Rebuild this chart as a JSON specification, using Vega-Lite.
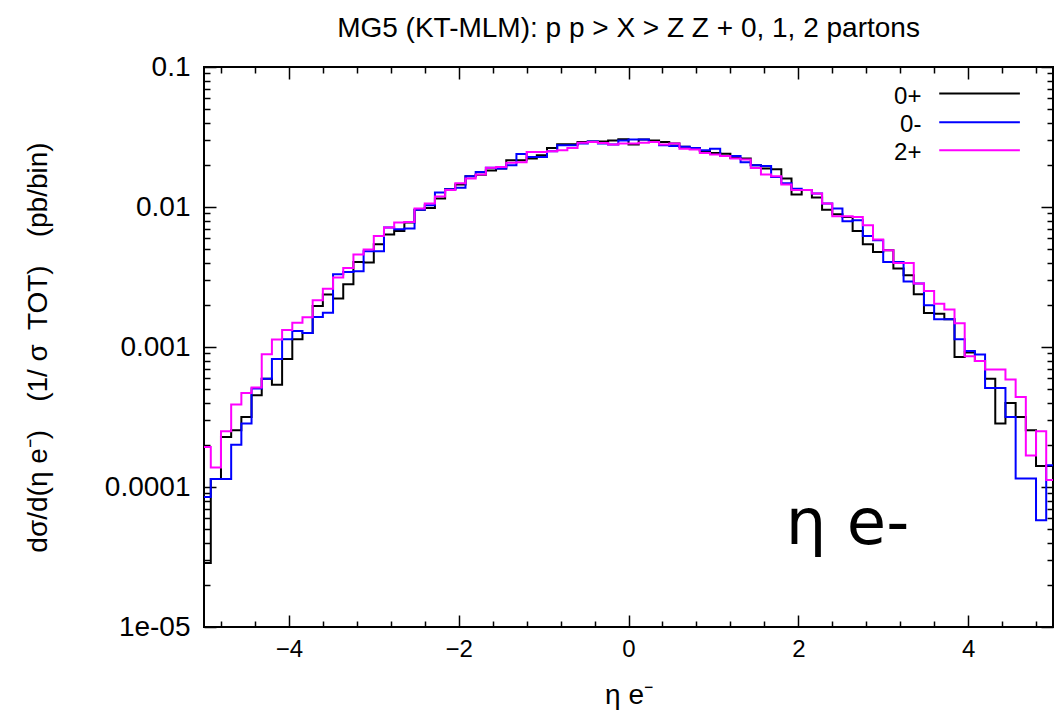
{
  "$schema": "https://vega.github.io/schema/vega-lite/v6.json",
  "width": 849,
  "height": 560,
  "autosize": {"type": "none"},
  "padding": {"left": 204, "top": 67, "right": 2, "bottom": 88},
  "background": "white",
  "config": {
    "view": {"stroke": "black", "strokeWidth": 2},
    "font": "Liberation Sans",
    "axis": {"domain": false, "grid": false, "tickColor": "black", "tickWidth": 1.5, "labelColor": "black", "titleColor": "black", "labelFont": "Liberation Sans", "titleFont": "Liberation Sans", "titleFontWeight": "normal"}
  },
  "title": {"text": "MG5 (KT-MLM): p p > X > Z Z + 0, 1, 2 partons", "font": "Liberation Sans", "fontSize": 28, "fontWeight": "normal", "color": "black", "anchor": "middle", "offset": 10},
  "datasets": {
    "hist": [
      {"x": -5.04, "y": 2.86e-5, "s": "0+"}, {"x": -4.92, "y": 1.14e-4, "s": "0+"}, {"x": -4.80, "y": 2.28e-4, "s": "0+"}, {"x": -4.68, "y": 2.54e-4, "s": "0+"}, {"x": -4.56, "y": 3.16e-4, "s": "0+"}, {"x": -4.44, "y": 4.52e-4, "s": "0+"}, {"x": -4.32, "y": 5.94e-4, "s": "0+"}, {"x": -4.20, "y": 5.38e-4, "s": "0+"}, {"x": -4.08, "y": 8.20e-4, "s": "0+"}, {"x": -3.96, "y": 1.135e-3, "s": "0+"},
      {"x": -3.84, "y": 1.26e-3, "s": "0+"}, {"x": -3.72, "y": 1.96e-3, "s": "0+"}, {"x": -3.60, "y": 2.37e-3, "s": "0+"}, {"x": -3.48, "y": 2.22e-3, "s": "0+"}, {"x": -3.36, "y": 2.81e-3, "s": "0+"}, {"x": -3.24, "y": 4.05e-3, "s": "0+"}, {"x": -3.12, "y": 4.01e-3, "s": "0+"}, {"x": -3.00, "y": 5.42e-3, "s": "0+"}, {"x": -2.88, "y": 6.35e-3, "s": "0+"}, {"x": -2.76, "y": 6.75e-3, "s": "0+"},
      {"x": -2.64, "y": 7.74e-3, "s": "0+"}, {"x": -2.52, "y": 9.57e-3, "s": "0+"}, {"x": -2.40, "y": 9.84e-3, "s": "0+"}, {"x": -2.28, "y": 1.148e-2, "s": "0+"}, {"x": -2.16, "y": 1.34e-2, "s": "0+"}, {"x": -2.04, "y": 1.445e-2, "s": "0+"}, {"x": -1.92, "y": 1.66e-2, "s": "0+"}, {"x": -1.80, "y": 1.70e-2, "s": "0+"}, {"x": -1.68, "y": 1.82e-2, "s": "0+"}, {"x": -1.56, "y": 1.88e-2, "s": "0+"},
      {"x": -1.44, "y": 2.16e-2, "s": "0+"}, {"x": -1.32, "y": 2.16e-2, "s": "0+"}, {"x": -1.20, "y": 2.22e-2, "s": "0+"}, {"x": -1.08, "y": 2.34e-2, "s": "0+"}, {"x": -0.96, "y": 2.64e-2, "s": "0+"}, {"x": -0.84, "y": 2.81e-2, "s": "0+"}, {"x": -0.72, "y": 2.81e-2, "s": "0+"}, {"x": -0.60, "y": 2.91e-2, "s": "0+"}, {"x": -0.48, "y": 2.94e-2, "s": "0+"}, {"x": -0.36, "y": 2.94e-2, "s": "0+"},
      {"x": -0.24, "y": 2.99e-2, "s": "0+"}, {"x": -0.12, "y": 3.05e-2, "s": "0+"}, {"x": 0.00, "y": 2.79e-2, "s": "0+"}, {"x": 0.12, "y": 3.03e-2, "s": "0+"}, {"x": 0.24, "y": 2.99e-2, "s": "0+"}, {"x": 0.36, "y": 2.91e-2, "s": "0+"}, {"x": 0.48, "y": 2.84e-2, "s": "0+"}, {"x": 0.60, "y": 2.69e-2, "s": "0+"}, {"x": 0.72, "y": 2.64e-2, "s": "0+"}, {"x": 0.84, "y": 2.50e-2, "s": "0+"},
      {"x": 0.96, "y": 2.43e-2, "s": "0+"}, {"x": 1.08, "y": 2.40e-2, "s": "0+"}, {"x": 1.20, "y": 2.24e-2, "s": "0+"}, {"x": 1.32, "y": 2.22e-2, "s": "0+"}, {"x": 1.44, "y": 1.99e-2, "s": "0+"}, {"x": 1.56, "y": 1.88e-2, "s": "0+"}, {"x": 1.68, "y": 1.86e-2, "s": "0+"}, {"x": 1.80, "y": 1.60e-2, "s": "0+"}, {"x": 1.92, "y": 1.23e-2, "s": "0+"}, {"x": 2.04, "y": 1.32e-2, "s": "0+"},
      {"x": 2.16, "y": 1.17e-2, "s": "0+"}, {"x": 2.28, "y": 9.57e-3, "s": "0+"}, {"x": 2.40, "y": 8.87e-3, "s": "0+"}, {"x": 2.52, "y": 8.49e-3, "s": "0+"}, {"x": 2.64, "y": 6.75e-3, "s": "0+"}, {"x": 2.76, "y": 5.42e-3, "s": "0+"}, {"x": 2.88, "y": 4.78e-3, "s": "0+"}, {"x": 3.00, "y": 4.91e-3, "s": "0+"}, {"x": 3.12, "y": 3.63e-3, "s": "0+"}, {"x": 3.24, "y": 3.25e-3, "s": "0+"},
      {"x": 3.36, "y": 2.38e-3, "s": "0+"}, {"x": 3.48, "y": 1.75e-3, "s": "0+"}, {"x": 3.60, "y": 1.73e-3, "s": "0+"}, {"x": 3.72, "y": 1.58e-3, "s": "0+"}, {"x": 3.84, "y": 8.49e-4, "s": "0+"}, {"x": 3.96, "y": 9.12e-4, "s": "0+"}, {"x": 4.08, "y": 7.94e-4, "s": "0+"}, {"x": 4.20, "y": 5.94e-4, "s": "0+"}, {"x": 4.32, "y": 2.84e-4, "s": "0+"}, {"x": 4.44, "y": 3.98e-4, "s": "0+"},
      {"x": 4.56, "y": 3.16e-4, "s": "0+"}, {"x": 4.68, "y": 2.54e-4, "s": "0+"}, {"x": 4.80, "y": 1.41e-4, "s": "0+"}, {"x": 4.92, "y": 1.41e-4, "s": "0+"}, {"x": 5.04, "y": 1.41e-4, "s": "0+"},

      {"x": -5.04, "y": 8.49e-5, "s": "0-"}, {"x": -4.92, "y": 1.14e-4, "s": "0-"}, {"x": -4.80, "y": 1.14e-4, "s": "0-"}, {"x": -4.68, "y": 2.00e-4, "s": "0-"}, {"x": -4.56, "y": 2.84e-4, "s": "0-"}, {"x": -4.44, "y": 5.05e-4, "s": "0-"}, {"x": -4.32, "y": 5.94e-4, "s": "0-"}, {"x": -4.20, "y": 8.20e-4, "s": "0-"}, {"x": -4.08, "y": 1.135e-3, "s": "0-"}, {"x": -3.96, "y": 1.30e-3, "s": "0-"},
      {"x": -3.84, "y": 1.26e-3, "s": "0-"}, {"x": -3.72, "y": 1.64e-3, "s": "0-"}, {"x": -3.60, "y": 1.76e-3, "s": "0-"}, {"x": -3.48, "y": 3.31e-3, "s": "0-"}, {"x": -3.36, "y": 3.44e-3, "s": "0-"}, {"x": -3.24, "y": 3.48e-3, "s": "0-"}, {"x": -3.12, "y": 4.83e-3, "s": "0-"}, {"x": -3.00, "y": 4.83e-3, "s": "0-"}, {"x": -2.88, "y": 7.13e-3, "s": "0-"}, {"x": -2.76, "y": 6.93e-3, "s": "0-"},
      {"x": -2.64, "y": 7.01e-3, "s": "0-"}, {"x": -2.52, "y": 9.57e-3, "s": "0-"}, {"x": -2.40, "y": 1.03e-2, "s": "0-"}, {"x": -2.28, "y": 1.27e-2, "s": "0-"}, {"x": -2.16, "y": 1.34e-2, "s": "0-"}, {"x": -2.04, "y": 1.37e-2, "s": "0-"}, {"x": -1.92, "y": 1.66e-2, "s": "0-"}, {"x": -1.80, "y": 1.78e-2, "s": "0-"}, {"x": -1.68, "y": 1.91e-2, "s": "0-"}, {"x": -1.56, "y": 1.88e-2, "s": "0-"},
      {"x": -1.44, "y": 1.99e-2, "s": "0-"}, {"x": -1.32, "y": 2.39e-2, "s": "0-"}, {"x": -1.20, "y": 2.28e-2, "s": "0-"}, {"x": -1.08, "y": 2.28e-2, "s": "0-"}, {"x": -0.96, "y": 2.50e-2, "s": "0-"}, {"x": -0.84, "y": 2.76e-2, "s": "0-"}, {"x": -0.72, "y": 2.76e-2, "s": "0-"}, {"x": -0.60, "y": 2.84e-2, "s": "0-"}, {"x": -0.48, "y": 2.94e-2, "s": "0-"}, {"x": -0.36, "y": 2.84e-2, "s": "0-"},
      {"x": -0.24, "y": 2.79e-2, "s": "0-"}, {"x": -0.12, "y": 2.99e-2, "s": "0-"}, {"x": 0.00, "y": 3.03e-2, "s": "0-"}, {"x": 0.12, "y": 3.03e-2, "s": "0-"}, {"x": 0.24, "y": 2.91e-2, "s": "0-"}, {"x": 0.36, "y": 2.76e-2, "s": "0-"}, {"x": 0.48, "y": 2.73e-2, "s": "0-"}, {"x": 0.60, "y": 2.69e-2, "s": "0-"}, {"x": 0.72, "y": 2.64e-2, "s": "0-"}, {"x": 0.84, "y": 2.54e-2, "s": "0-"},
      {"x": 0.96, "y": 2.61e-2, "s": "0-"}, {"x": 1.08, "y": 2.31e-2, "s": "0-"}, {"x": 1.20, "y": 2.31e-2, "s": "0-"}, {"x": 1.32, "y": 2.09e-2, "s": "0-"}, {"x": 1.44, "y": 1.99e-2, "s": "0-"}, {"x": 1.56, "y": 1.96e-2, "s": "0-"}, {"x": 1.68, "y": 1.64e-2, "s": "0-"}, {"x": 1.80, "y": 1.48e-2, "s": "0-"}, {"x": 1.92, "y": 1.35e-2, "s": "0-"}, {"x": 2.04, "y": 1.32e-2, "s": "0-"},
      {"x": 2.16, "y": 1.25e-2, "s": "0-"}, {"x": 2.28, "y": 1.06e-2, "s": "0-"}, {"x": 2.40, "y": 9.75e-3, "s": "0-"}, {"x": 2.52, "y": 7.91e-3, "s": "0-"}, {"x": 2.64, "y": 8.04e-3, "s": "0-"}, {"x": 2.76, "y": 6.21e-3, "s": "0-"}, {"x": 2.88, "y": 5.78e-3, "s": "0-"}, {"x": 3.00, "y": 4.05e-3, "s": "0-"}, {"x": 3.12, "y": 4.05e-3, "s": "0-"}, {"x": 3.24, "y": 2.94e-3, "s": "0-"},
      {"x": 3.36, "y": 2.84e-3, "s": "0-"}, {"x": 3.48, "y": 1.99e-3, "s": "0-"}, {"x": 3.60, "y": 1.58e-3, "s": "0-"}, {"x": 3.72, "y": 1.58e-3, "s": "0-"}, {"x": 3.84, "y": 1.135e-3, "s": "0-"}, {"x": 3.96, "y": 9.35e-4, "s": "0-"}, {"x": 4.08, "y": 8.83e-4, "s": "0-"}, {"x": 4.20, "y": 5.09e-4, "s": "0-"}, {"x": 4.32, "y": 5.09e-4, "s": "0-"}, {"x": 4.44, "y": 3.16e-4, "s": "0-"},
      {"x": 4.56, "y": 1.15e-4, "s": "0-"}, {"x": 4.68, "y": 1.15e-4, "s": "0-"}, {"x": 4.80, "y": 5.78e-5, "s": "0-"}, {"x": 4.92, "y": 1.43e-4, "s": "0-"}, {"x": 5.04, "y": 1.43e-4, "s": "0-"},

      {"x": -5.04, "y": 1.93e-4, "s": "2+"}, {"x": -4.92, "y": 1.38e-4, "s": "2+"}, {"x": -4.80, "y": 2.50e-4, "s": "2+"}, {"x": -4.68, "y": 3.88e-4, "s": "2+"}, {"x": -4.56, "y": 4.69e-4, "s": "2+"}, {"x": -4.44, "y": 5.13e-4, "s": "2+"}, {"x": -4.32, "y": 8.87e-4, "s": "2+"}, {"x": -4.20, "y": 1.13e-3, "s": "2+"}, {"x": -4.08, "y": 1.32e-3, "s": "2+"}, {"x": -3.96, "y": 1.49e-3, "s": "2+"},
      {"x": -3.84, "y": 1.63e-3, "s": "2+"}, {"x": -3.72, "y": 2.16e-3, "s": "2+"}, {"x": -3.60, "y": 2.61e-3, "s": "2+"}, {"x": -3.48, "y": 3.13e-3, "s": "2+"}, {"x": -3.36, "y": 3.66e-3, "s": "2+"}, {"x": -3.24, "y": 4.57e-3, "s": "2+"}, {"x": -3.12, "y": 4.97e-3, "s": "2+"}, {"x": -3.00, "y": 6.21e-3, "s": "2+"}, {"x": -2.88, "y": 7.13e-3, "s": "2+"}, {"x": -2.76, "y": 7.74e-3, "s": "2+"},
      {"x": -2.64, "y": 7.82e-3, "s": "2+"}, {"x": -2.52, "y": 9.75e-3, "s": "2+"}, {"x": -2.40, "y": 1.06e-2, "s": "2+"}, {"x": -2.28, "y": 1.19e-2, "s": "2+"}, {"x": -2.16, "y": 1.32e-2, "s": "2+"}, {"x": -2.04, "y": 1.48e-2, "s": "2+"}, {"x": -1.92, "y": 1.60e-2, "s": "2+"}, {"x": -1.80, "y": 1.71e-2, "s": "2+"}, {"x": -1.68, "y": 1.91e-2, "s": "2+"}, {"x": -1.56, "y": 1.93e-2, "s": "2+"},
      {"x": -1.44, "y": 2.07e-2, "s": "2+"}, {"x": -1.32, "y": 2.09e-2, "s": "2+"}, {"x": -1.20, "y": 2.47e-2, "s": "2+"}, {"x": -1.08, "y": 2.47e-2, "s": "2+"}, {"x": -0.96, "y": 2.50e-2, "s": "2+"}, {"x": -0.84, "y": 2.54e-2, "s": "2+"}, {"x": -0.72, "y": 2.64e-2, "s": "2+"}, {"x": -0.60, "y": 2.88e-2, "s": "2+"}, {"x": -0.48, "y": 2.91e-2, "s": "2+"}, {"x": -0.36, "y": 2.86e-2, "s": "2+"},
      {"x": -0.24, "y": 2.79e-2, "s": "2+"}, {"x": -0.12, "y": 2.84e-2, "s": "2+"}, {"x": 0.00, "y": 2.84e-2, "s": "2+"}, {"x": 0.12, "y": 2.88e-2, "s": "2+"}, {"x": 0.24, "y": 2.91e-2, "s": "2+"}, {"x": 0.36, "y": 2.79e-2, "s": "2+"}, {"x": 0.48, "y": 2.84e-2, "s": "2+"}, {"x": 0.60, "y": 2.61e-2, "s": "2+"}, {"x": 0.72, "y": 2.57e-2, "s": "2+"}, {"x": 0.84, "y": 2.43e-2, "s": "2+"},
      {"x": 0.96, "y": 2.37e-2, "s": "2+"}, {"x": 1.08, "y": 2.31e-2, "s": "2+"}, {"x": 1.20, "y": 2.22e-2, "s": "2+"}, {"x": 1.32, "y": 2.18e-2, "s": "2+"}, {"x": 1.44, "y": 1.90e-2, "s": "2+"}, {"x": 1.56, "y": 1.71e-2, "s": "2+"}, {"x": 1.68, "y": 1.66e-2, "s": "2+"}, {"x": 1.80, "y": 1.445e-2, "s": "2+"}, {"x": 1.92, "y": 1.32e-2, "s": "2+"}, {"x": 2.04, "y": 1.32e-2, "s": "2+"},
      {"x": 2.16, "y": 1.25e-2, "s": "2+"}, {"x": 2.28, "y": 1.06e-2, "s": "2+"}, {"x": 2.40, "y": 8.59e-3, "s": "2+"}, {"x": 2.52, "y": 8.59e-3, "s": "2+"}, {"x": 2.64, "y": 8.49e-3, "s": "2+"}, {"x": 2.76, "y": 7.40e-3, "s": "2+"}, {"x": 2.88, "y": 5.85e-3, "s": "2+"}, {"x": 3.00, "y": 4.91e-3, "s": "2+"}, {"x": 3.12, "y": 3.98e-3, "s": "2+"}, {"x": 3.24, "y": 3.98e-3, "s": "2+"},
      {"x": 3.36, "y": 2.84e-3, "s": "2+"}, {"x": 3.48, "y": 2.51e-3, "s": "2+"}, {"x": 3.60, "y": 2.04e-3, "s": "2+"}, {"x": 3.72, "y": 1.85e-3, "s": "2+"}, {"x": 3.84, "y": 1.48e-3, "s": "2+"}, {"x": 3.96, "y": 8.59e-4, "s": "2+"}, {"x": 4.08, "y": 7.94e-4, "s": "2+"}, {"x": 4.20, "y": 6.90e-4, "s": "2+"}, {"x": 4.32, "y": 6.90e-4, "s": "2+"}, {"x": 4.44, "y": 5.85e-4, "s": "2+"},
      {"x": 4.56, "y": 4.40e-4, "s": "2+"}, {"x": 4.68, "y": 1.68e-4, "s": "2+"}, {"x": 4.80, "y": 2.50e-4, "s": "2+"}, {"x": 4.92, "y": 1.12e-4, "s": "2+"}, {"x": 5.04, "y": 1.12e-4, "s": "2+"}
    ]
  },
  "data": {"name": "hist"},
  "resolve": {"axis": {"x": "independent", "y": "independent"}},
  "layer": [
    {
      "mark": {"type": "line", "interpolate": "step-after", "clip": true, "strokeWidth": 2},
      "encoding": {
        "x": {"field": "x", "type": "quantitative", "scale": {"domain": [-5, 5], "nice": false, "zero": false},
              "axis": {"orient": "bottom", "values": [-4, -2, 0, 2, 4], "tickSize": -12, "labelPadding": 22, "labelFontSize": 24, "title": "η e⁻", "titleFontSize": 28, "titleX": 424.5, "titleY": 68, "titleBaseline": "middle", "titleAlign": "center"}},
        "y": {"field": "y", "type": "quantitative", "scale": {"type": "log", "domain": [1e-5, 0.1], "nice": false},
              "axis": {"orient": "left", "values": [1e-5, 1e-4, 1e-3, 1e-2, 0.1], "tickSize": -12, "labelPadding": 26, "labelFontSize": 28,
                       "labelExpr": "datum.value < 2e-5 ? '1e-05' : datum.value < 2e-4 ? '0.0001' : datum.value < 2e-3 ? '0.001' : datum.value < 2e-2 ? '0.01' : '0.1'",
                       "title": "dσ/d(η e⁻)\u2003(1/ σ\u2002TOT)\u2003(pb/bin)", "titleFontSize": 28, "titleX": -166, "titleY": 280, "titleAngle": -90, "titleAlign": "center", "titleBaseline": "middle"}},
        "color": {"field": "s", "type": "nominal", "scale": {"domain": ["0+", "0-", "2+"], "range": ["#000000", "#0000ff", "#ff00ff"]}, "legend": null}
      }
    },
    {
      "mark": {"type": "line", "opacity": 0},
      "encoding": {
        "x": {"field": "x", "type": "quantitative", "axis": {"orient": "top", "values": [-4, -2, 0, 2, 4], "tickSize": -12, "labels": false, "title": null}},
        "y": {"field": "y", "type": "quantitative", "axis": {"orient": "right", "values": [1e-5, 1e-4, 1e-3, 1e-2, 0.1], "tickSize": -12, "labels": false, "title": null}}
      }
    },
    {
      "mark": {"type": "line", "opacity": 0},
      "encoding": {
        "x": {"field": "x", "type": "quantitative", "axis": {"orient": "bottom", "values": [-4.8, -4.4, -3.6, -3.2, -2.8, -2.4, -1.6, -1.2, -0.8, -0.4, 0.4, 0.8, 1.2, 1.6, 2.4, 2.8, 3.2, 3.6, 4.4, 4.8], "tickSize": -6, "labels": false, "title": null}},
        "y": {"field": "y", "type": "quantitative", "axis": {"orient": "left", "values": [2e-5, 3e-5, 4e-5, 5e-5, 6e-5, 7e-5, 8e-5, 9e-5, 2e-4, 3e-4, 4e-4, 5e-4, 6e-4, 7e-4, 8e-4, 9e-4, 2e-3, 3e-3, 4e-3, 5e-3, 6e-3, 7e-3, 8e-3, 9e-3, 2e-2, 3e-2, 4e-2, 5e-2, 6e-2, 7e-2, 8e-2, 9e-2], "tickSize": -6, "labels": false, "title": null}}
      }
    },
    {
      "mark": {"type": "line", "opacity": 0},
      "encoding": {
        "x": {"field": "x", "type": "quantitative", "axis": {"orient": "top", "values": [-4.8, -4.4, -3.6, -3.2, -2.8, -2.4, -1.6, -1.2, -0.8, -0.4, 0.4, 0.8, 1.2, 1.6, 2.4, 2.8, 3.2, 3.6, 4.4, 4.8], "tickSize": -6, "labels": false, "title": null}},
        "y": {"field": "y", "type": "quantitative", "axis": {"orient": "right", "values": [2e-5, 3e-5, 4e-5, 5e-5, 6e-5, 7e-5, 8e-5, 9e-5, 2e-4, 3e-4, 4e-4, 5e-4, 6e-4, 7e-4, 8e-4, 9e-4, 2e-3, 3e-3, 4e-3, 5e-3, 6e-3, 7e-3, 8e-3, 9e-3, 2e-2, 3e-2, 4e-2, 5e-2, 6e-2, 7e-2, 8e-2, 9e-2], "tickSize": -6, "labels": false, "title": null}}
      }
    },
    {
      "data": {"values": [{}]},
      "mark": {"type": "rule", "strokeWidth": 2},
      "encoding": {"x": {"datum": 3.66, "axis": null}, "x2": {"datum": 4.61}, "y": {"datum": 0.0646, "axis": null}, "color": {"datum": "0+"}}
    },
    {
      "data": {"values": [{}]},
      "mark": {"type": "rule", "strokeWidth": 2},
      "encoding": {"x": {"datum": 3.66, "axis": null}, "x2": {"datum": 4.61}, "y": {"datum": 0.0403, "axis": null}, "color": {"datum": "0-"}}
    },
    {
      "data": {"values": [{}]},
      "mark": {"type": "rule", "strokeWidth": 2},
      "encoding": {"x": {"datum": 3.66, "axis": null}, "x2": {"datum": 4.61}, "y": {"datum": 0.0254, "axis": null}, "color": {"datum": "2+"}}
    },
    {
      "data": {"values": [{}]},
      "mark": {"type": "text", "align": "right", "baseline": "middle", "dy": 3, "fontSize": 24, "font": "Liberation Sans", "color": "black"},
      "encoding": {"x": {"datum": 3.45, "axis": null}, "y": {"datum": 0.0646, "axis": null}, "text": {"value": "0+"}}
    },
    {
      "data": {"values": [{}]},
      "mark": {"type": "text", "align": "right", "baseline": "middle", "dy": 3, "fontSize": 24, "font": "Liberation Sans", "color": "black"},
      "encoding": {"x": {"datum": 3.45, "axis": null}, "y": {"datum": 0.0403, "axis": null}, "text": {"value": "0-"}}
    },
    {
      "data": {"values": [{}]},
      "mark": {"type": "text", "align": "right", "baseline": "middle", "dy": 3, "fontSize": 24, "font": "Liberation Sans", "color": "black"},
      "encoding": {"x": {"datum": 3.45, "axis": null}, "y": {"datum": 0.0254, "axis": null}, "text": {"value": "2+"}}
    },
    {
      "data": {"values": [{}]},
      "mark": {"type": "text", "align": "center", "baseline": "alphabetic", "fontSize": 64, "font": "DejaVu Sans", "color": "black"},
      "encoding": {"x": {"datum": 2.58, "axis": null}, "y": {"datum": 3.93e-5, "axis": null}, "text": {"value": "η e-"}}
    }
  ]
}
